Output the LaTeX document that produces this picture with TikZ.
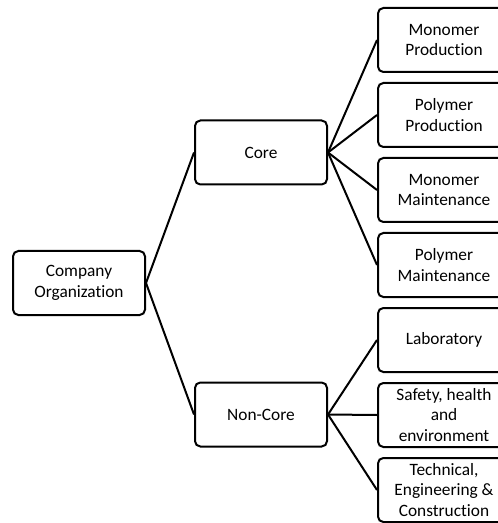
\documentclass[tikz,border=0pt]{standalone}
\usepackage{fontspec}
\setmainfont{Carlito}[Ligatures=NoCommon]

\begin{document}
\begin{tikzpicture}[x=0.75pt,y=-0.75pt,line width=1.5pt,node distance=56.25pt,box/.style={draw,rounded corners=4pt,minimum width=99pt,minimum height=48pt,inner sep=1pt,align=center,font=\fontsize{13}{15.6}\selectfont}]
            \clip (0,0) rectangle (498,523);
            \node[box] (org) at (79,283) {Company\\Organization};
            \node[box] (core) at (261,152.5) {Core};
            \node[box] (noncore) at (261,414.5) {Non-Core};

            \node[box] (monprod) at (444,40) {Monomer\\Production};
            \node[box] (polprod) [below of = monprod] {Polymer\\Production};
            \node[box] (monmaint) [below of = polprod] {Monomer\\Maintenance};
            \node[box] (polmaint) [below of = monmaint] {Polymer\\Maintenance};
            \node[box] (lab) [below of = polmaint] {Laboratory};
            \node[box] (she) [below of = lab] {Safety, health\\and\\environment};
            \node[box] (tec) [below of = she] {Technical,\\Engineering \&\\Construction};

            \path
                (org.east) edge (core.west)
                (org.east) edge (noncore.west)
                (core.east) edge (monprod.west)
                (core.east) edge (polprod.west)
                (core.east) edge (monmaint.west)
                (core.east) edge (polmaint.west)
                (noncore.east) edge (lab.west)
                (noncore.east) edge (she.west)
                (noncore.east) edge (tec.west)
                ;
        \end{tikzpicture}
\end{document}
